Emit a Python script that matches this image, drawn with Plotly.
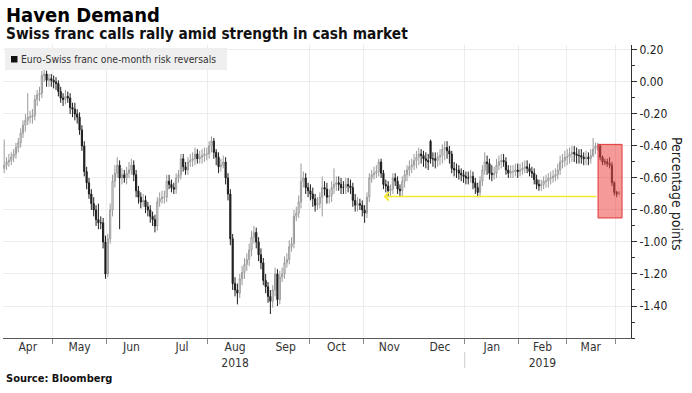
import pandas as pd
import plotly.graph_objects as go

# ---------------- data ----------------
start_day = "2018-04-02"

open_ = [
-0.54, -0.52, -0.50, -0.49, -0.47, -0.45, -0.41, -0.38, -0.32, -0.27,
-0.24, -0.22, -0.22, -0.21, -0.11, -0.08, -0.07, 0.04, 0.05, 0.01,
0.02, 0.01, 0.00, -0.01, -0.06, -0.10, -0.11, -0.09, -0.10, -0.16,
-0.17, -0.20, -0.22, -0.30, -0.40, -0.56, -0.63, -0.70, -0.76, -0.80,
-0.86, -0.88, -0.88, -1.00, -1.20, -0.98, -0.80, -0.62, -0.57, -0.52,
-0.60, -0.58, -0.60, -0.57, -0.55, -0.52, -0.58, -0.68, -0.72, -0.75,
-0.74, -0.78, -0.80, -0.84, -0.86, -0.90, -0.75, -0.73, -0.72, -0.72,
-0.62, -0.64, -0.66, -0.67, -0.60, -0.58, -0.48, -0.53, -0.55, -0.50,
-0.49, -0.48, -0.45, -0.48, -0.47, -0.46, -0.45, -0.45, -0.40, -0.37,
-0.44, -0.47, -0.53, -0.52, -0.50, -0.60, -0.70, -0.98, -1.26, -1.30,
-1.32, -1.23, -1.19, -1.14, -1.11, -1.05, -0.97, -0.94, -1.00, -1.08,
-1.13, -1.24, -1.28, -1.34, -1.37, -1.30, -1.20, -1.36, -1.22, -1.20,
-1.13, -1.11, -1.03, -1.01, -0.84, -0.82, -0.75, -0.62, -0.60, -0.66,
-0.68, -0.70, -0.73, -0.77, -0.76, -0.72, -0.66, -0.67, -0.72, -0.71,
-0.66, -0.64, -0.63, -0.64, -0.66, -0.66, -0.64, -0.65, -0.66, -0.74,
-0.77, -0.76, -0.77, -0.80, -0.82, -0.72, -0.60, -0.58, -0.57, -0.56,
-0.50, -0.57, -0.64, -0.65, -0.68, -0.67, -0.60, -0.62, -0.67, -0.68,
-0.62, -0.58, -0.55, -0.53, -0.52, -0.49, -0.47, -0.45, -0.46, -0.48,
-0.49, -0.37, -0.48, -0.48, -0.49, -0.47, -0.46, -0.42, -0.41, -0.43,
-0.45, -0.54, -0.55, -0.55, -0.57, -0.58, -0.59, -0.60, -0.60, -0.59,
-0.63, -0.66, -0.69, -0.62, -0.55, -0.50, -0.51, -0.57, -0.58, -0.57,
-0.52, -0.50, -0.49, -0.50, -0.55, -0.57, -0.56, -0.56, -0.55, -0.56,
-0.55, -0.54, -0.53, -0.54, -0.56, -0.57, -0.61, -0.64, -0.65, -0.64,
-0.62, -0.62, -0.60, -0.60, -0.59, -0.58, -0.55, -0.50, -0.49, -0.47,
-0.47, -0.45, -0.44, -0.45, -0.46, -0.46, -0.47, -0.48, -0.47, -0.48,
-0.46, -0.42, -0.40, -0.40, -0.47, -0.50, -0.50, -0.51, -0.52, -0.63,
-0.69, -0.70]

high = [
-0.36, -0.47, -0.45, -0.44, -0.42, -0.38, -0.35, -0.29, -0.24, -0.20,
-0.07, -0.18, -0.17, -0.08, -0.05, -0.03, 0.07, 0.08, 0.07, 0.05,
0.05, 0.04, 0.03, 0.01, -0.03, -0.07, -0.05, -0.06, -0.07, -0.13,
-0.13, -0.17, -0.19, -0.27, -0.37, -0.53, -0.60, -0.67, -0.72, -0.77,
-0.76, -0.84, -0.85, -0.96, -0.95, -0.76, -0.58, -0.52, -0.47, -0.49,
-0.54, -0.55, -0.53, -0.50, -0.48, -0.49, -0.55, -0.65, -0.69, -0.70,
-0.71, -0.75, -0.77, -0.81, -0.83, -0.72, -0.69, -0.68, -0.68, -0.58,
-0.58, -0.61, -0.63, -0.57, -0.55, -0.45, -0.45, -0.50, -0.47, -0.45,
-0.44, -0.41, -0.42, -0.43, -0.42, -0.41, -0.41, -0.37, -0.34, -0.35,
-0.42, -0.44, -0.48, -0.46, -0.47, -0.57, -0.67, -0.95, -1.22, -1.26,
-1.20, -1.15, -1.10, -1.07, -1.01, -0.93, -0.90, -0.91, -0.97, -1.04,
-1.10, -1.20, -1.25, -1.30, -1.27, -1.16, -1.17, -1.18, -1.16, -1.09,
-1.07, -0.99, -0.97, -0.80, -0.78, -0.71, -0.51, -0.56, -0.57, -0.63,
-0.64, -0.66, -0.70, -0.72, -0.69, -0.59, -0.62, -0.63, -0.67, -0.62,
-0.54, -0.59, -0.59, -0.60, -0.62, -0.60, -0.60, -0.61, -0.63, -0.70,
-0.72, -0.73, -0.74, -0.77, -0.69, -0.57, -0.55, -0.53, -0.52, -0.48,
-0.48, -0.55, -0.61, -0.62, -0.64, -0.57, -0.57, -0.59, -0.64, -0.59,
-0.55, -0.52, -0.49, -0.48, -0.45, -0.43, -0.41, -0.42, -0.43, -0.44,
-0.45, -0.36, -0.44, -0.44, -0.44, -0.42, -0.39, -0.37, -0.37, -0.40,
-0.43, -0.50, -0.51, -0.52, -0.54, -0.55, -0.56, -0.56, -0.55, -0.56,
-0.60, -0.63, -0.59, -0.52, -0.44, -0.46, -0.48, -0.52, -0.53, -0.48,
-0.46, -0.45, -0.45, -0.47, -0.52, -0.52, -0.52, -0.51, -0.51, -0.51,
-0.50, -0.49, -0.49, -0.51, -0.53, -0.54, -0.58, -0.61, -0.61, -0.59,
-0.58, -0.57, -0.56, -0.55, -0.54, -0.51, -0.46, -0.45, -0.43, -0.42,
-0.41, -0.40, -0.40, -0.41, -0.42, -0.42, -0.44, -0.43, -0.44, -0.42,
-0.35, -0.38, -0.38, -0.39, -0.46, -0.48, -0.48, -0.47, -0.50, -0.62,
-0.68, -0.68]

low = [
-0.57, -0.55, -0.53, -0.52, -0.50, -0.48, -0.44, -0.41, -0.35, -0.31,
-0.27, -0.26, -0.26, -0.24, -0.15, -0.12, -0.10, 0.00, -0.03, -0.03,
-0.03, -0.04, -0.05, -0.09, -0.13, -0.15, -0.14, -0.13, -0.20, -0.22,
-0.24, -0.26, -0.33, -0.43, -0.59, -0.67, -0.73, -0.80, -0.84, -0.90,
-0.92, -0.92, -1.04, -1.23, -1.22, -1.01, -0.84, -0.66, -0.60, -0.92,
-0.64, -0.63, -0.64, -0.60, -0.58, -0.62, -0.72, -0.76, -0.79, -0.78,
-0.82, -0.84, -0.88, -0.90, -0.94, -0.93, -0.78, -0.76, -0.76, -0.75,
-0.67, -0.69, -0.70, -0.70, -0.63, -0.61, -0.56, -0.58, -0.58, -0.53,
-0.53, -0.52, -0.51, -0.51, -0.51, -0.50, -0.49, -0.48, -0.44, -0.48,
-0.52, -0.57, -0.56, -0.54, -0.64, -0.74, -1.02, -1.30, -1.34, -1.39,
-1.35, -1.27, -1.23, -1.18, -1.15, -1.09, -1.01, -1.04, -1.12, -1.17,
-1.27, -1.32, -1.38, -1.45, -1.41, -1.34, -1.40, -1.39, -1.25, -1.23,
-1.16, -1.14, -1.06, -1.04, -0.87, -0.85, -0.79, -0.66, -0.70, -0.72,
-0.74, -0.78, -0.81, -0.80, -0.79, -0.84, -0.71, -0.76, -0.76, -0.75,
-0.70, -0.68, -0.68, -0.70, -0.70, -0.70, -0.69, -0.70, -0.78, -0.81,
-0.81, -0.80, -0.84, -0.88, -0.85, -0.75, -0.63, -0.61, -0.60, -0.59,
-0.60, -0.67, -0.69, -0.72, -0.72, -0.70, -0.65, -0.70, -0.72, -0.72,
-0.66, -0.62, -0.59, -0.57, -0.55, -0.54, -0.52, -0.51, -0.53, -0.54,
-0.55, -0.51, -0.53, -0.54, -0.53, -0.52, -0.51, -0.49, -0.48, -0.51,
-0.57, -0.59, -0.60, -0.61, -0.62, -0.63, -0.64, -0.64, -0.63, -0.67,
-0.70, -0.72, -0.72, -0.65, -0.58, -0.58, -0.61, -0.62, -0.61, -0.60,
-0.55, -0.54, -0.53, -0.58, -0.60, -0.60, -0.60, -0.59, -0.60, -0.59,
-0.58, -0.57, -0.57, -0.59, -0.60, -0.64, -0.67, -0.68, -0.68, -0.67,
-0.66, -0.66, -0.64, -0.63, -0.62, -0.61, -0.58, -0.54, -0.53, -0.52,
-0.51, -0.50, -0.50, -0.51, -0.51, -0.51, -0.52, -0.52, -0.52, -0.51,
-0.47, -0.45, -0.43, -0.49, -0.52, -0.52, -0.53, -0.54, -0.65, -0.71,
-0.72, -0.71]

close = [
-0.52, -0.50, -0.49, -0.47, -0.45, -0.41, -0.38, -0.32, -0.27, -0.24,
-0.22, -0.22, -0.21, -0.11, -0.08, -0.07, 0.04, 0.05, 0.01, 0.02,
0.01, 0.00, -0.01, -0.06, -0.10, -0.11, -0.09, -0.10, -0.16, -0.17,
-0.20, -0.22, -0.30, -0.40, -0.56, -0.63, -0.70, -0.76, -0.80, -0.86,
-0.88, -0.88, -1.00, -1.20, -0.98, -0.80, -0.62, -0.57, -0.52, -0.60,
-0.58, -0.60, -0.57, -0.55, -0.52, -0.58, -0.68, -0.72, -0.75, -0.74,
-0.78, -0.80, -0.84, -0.86, -0.90, -0.75, -0.73, -0.72, -0.72, -0.62,
-0.64, -0.66, -0.67, -0.60, -0.58, -0.48, -0.53, -0.55, -0.50, -0.49,
-0.48, -0.45, -0.48, -0.47, -0.46, -0.45, -0.45, -0.40, -0.37, -0.44,
-0.47, -0.53, -0.52, -0.50, -0.60, -0.70, -0.98, -1.26, -1.30, -1.32,
-1.23, -1.19, -1.14, -1.11, -1.05, -0.97, -0.94, -1.00, -1.08, -1.13,
-1.24, -1.28, -1.34, -1.37, -1.30, -1.20, -1.36, -1.22, -1.20, -1.13,
-1.11, -1.03, -1.01, -0.84, -0.82, -0.75, -0.62, -0.60, -0.66, -0.68,
-0.70, -0.73, -0.77, -0.76, -0.72, -0.66, -0.67, -0.72, -0.71, -0.66,
-0.64, -0.63, -0.64, -0.66, -0.66, -0.64, -0.65, -0.66, -0.74, -0.77,
-0.76, -0.77, -0.80, -0.82, -0.72, -0.60, -0.58, -0.57, -0.56, -0.50,
-0.57, -0.64, -0.65, -0.68, -0.67, -0.60, -0.62, -0.67, -0.68, -0.62,
-0.58, -0.55, -0.53, -0.52, -0.49, -0.47, -0.45, -0.46, -0.48, -0.49,
-0.50, -0.48, -0.48, -0.49, -0.47, -0.46, -0.42, -0.41, -0.43, -0.45,
-0.54, -0.55, -0.55, -0.57, -0.58, -0.59, -0.60, -0.60, -0.59, -0.63,
-0.66, -0.69, -0.62, -0.55, -0.50, -0.51, -0.57, -0.58, -0.57, -0.52,
-0.50, -0.49, -0.50, -0.55, -0.57, -0.56, -0.56, -0.55, -0.56, -0.55,
-0.54, -0.53, -0.54, -0.56, -0.57, -0.61, -0.64, -0.65, -0.64, -0.62,
-0.62, -0.60, -0.60, -0.59, -0.58, -0.55, -0.50, -0.49, -0.47, -0.47,
-0.45, -0.44, -0.45, -0.46, -0.46, -0.47, -0.48, -0.47, -0.48, -0.46,
-0.42, -0.40, -0.40, -0.47, -0.50, -0.50, -0.51, -0.52, -0.63, -0.69,
-0.70, -0.69]

y_tick_values = [0.2, 0.0, -0.2, -0.4, -0.6, -0.8, -1.0, -1.2, -1.4]
y_tick_labels = ["0.20", "0.00", "-0.20", "-0.40", "-0.60", "-0.80", "-1.00", "-1.20", "-1.40"]

# month tick labels (year printed under Aug 2018 and Feb 2019)
month_starts = ["2018-04", "2018-05", "2018-06", "2018-07", "2018-08", "2018-09", "2018-10",
                "2018-11", "2018-12", "2019-01", "2019-02", "2019-03"]
month_labels = ["Apr", "May", "Jun", "Jul", "Aug<br>2018", "Sep", "Oct",
                "Nov", "Dec", "Jan", "Feb<br>2019", "Mar"]
boundary_months = ["2018-05-01", "2018-06-01", "2018-07-01", "2018-08-01", "2018-09-01",
                   "2018-10-01", "2018-11-01", "2018-12-01", "2019-01-01", "2019-02-01",
                   "2019-03-01", "2019-04-01"]
year_break = "2019-01-01"

title_text = "Haven Demand"
subtitle_text = "Swiss franc calls rally amid strength in cash market"
legend_text = "Euro-Swiss franc one-month risk reversals"
y_title = "Percentage points"
source_text = "Source: Bloomberg"

# highlighted window and reference level (arrow)
box_x = ["2019-03-20 14:00", "2019-04-03 19:00"]
box_y = [-0.85, -0.39]
arrow_level = -0.715
arrow_head_date = "2018-11-13 12:00"
arrow_tail_date = "2019-03-20 14:00"

# ---------------- figure ----------------
dates = pd.bdate_range(start=start_day, periods=len(close)) + pd.Timedelta(hours=12)


def month_middle(ym):
    p = pd.Period(ym, freq="M")
    days = pd.bdate_range(p.start_time, p.end_time.normalize())
    n = len(days)
    if n % 2 == 0:
        return days[n // 2]
    return days[n // 2] + pd.Timedelta(hours=12)


label_pos = [month_middle(m) for m in month_starts]

FONT = "DejaVu Sans Condensed, DejaVu Sans, sans-serif"
W, H = 692, 393
L, R, T, B = 3, 61, 45, 55
PW, PH = W - L - R, H - T - B


def px(x):
    return (x - L) / PW


def py(y):
    return (H - B - y) / PH


fig = go.Figure(go.Candlestick(
    x=dates, open=open_, high=high, low=low, close=close,
    increasing=dict(line=dict(color="#9a9a9a", width=1), fillcolor="#ffffff"),
    decreasing=dict(line=dict(color="#1e1e1e", width=1), fillcolor="#1e1e1e"),
    whiskerwidth=0, showlegend=False, hoverinfo="skip",
))

shapes = [
    # legend box
    dict(type="rect", xref="paper", yref="paper", x0=px(5), x1=px(227), y0=py(70), y1=py(48),
         fillcolor="#efefef", line=dict(width=0), layer="above"),
    dict(type="rect", xref="paper", yref="paper", x0=px(11), x1=px(17.5), y0=py(62.5), y1=py(56),
         fillcolor="#111111", line=dict(width=0), layer="above"),
    # highlighted box
    dict(type="rect", xref="x", yref="y", x0=box_x[0], x1=box_x[1], y0=box_y[0], y1=box_y[1],
         fillcolor="rgba(238,70,70,0.55)", line=dict(color="rgba(225,40,40,0.9)", width=1), layer="above"),
    # year separator
    dict(type="line", xref="x", yref="paper", x0=year_break, x1=year_break, y0=py(352), y1=py(368),
         line=dict(color="#cccccc", width=1)),
]

annotations = [
    dict(text="<b>" + title_text + "</b>", xref="paper", yref="paper", x=px(4), y=py(15),
         xanchor="left", yanchor="middle", showarrow=False,
         font=dict(family=FONT, size=20, color="#000000")),
    dict(text="<b>" + subtitle_text + "</b>", xref="paper", yref="paper", x=px(4), y=py(34),
         xanchor="left", yanchor="middle", showarrow=False,
         font=dict(family=FONT, size=15.3, color="#111111")),
    dict(text=legend_text, xref="paper", yref="paper", x=px(19), y=py(59),
         xanchor="left", yanchor="middle", showarrow=False,
         font=dict(family=FONT, size=10.3, color="#333333")),
    dict(text=y_title, xref="paper", yref="paper", x=px(677), y=py(193), textangle=90,
         xanchor="center", yanchor="middle", showarrow=False,
         font=dict(family=FONT, size=14, color="#222222")),
    dict(text="<b>" + source_text + "</b>", xref="paper", yref="paper", x=px(4), y=py(378),
         xanchor="left", yanchor="middle", showarrow=False,
         font=dict(family=FONT, size=11, color="#111111")),
    dict(x=arrow_head_date, y=arrow_level, ax=arrow_tail_date, ay=arrow_level,
         xref="x", yref="y", axref="x", ayref="y", text="", showarrow=True,
         arrowhead=4, arrowsize=1.1, arrowwidth=1.5, arrowcolor="#f5e930"),
]

fig.update_layout(
    width=W, height=H, autosize=False,
    margin=dict(l=L, r=R, t=T, b=B),
    paper_bgcolor="#ffffff", plot_bgcolor="#ffffff",
    font=dict(family=FONT, size=12, color="#333333"),
    shapes=shapes, annotations=annotations, showlegend=False,
    xaxis=dict(
        type="date", range=["2018-04-02 00:00", "2019-04-09 14:00"],
        rangebreaks=[dict(bounds=["sat", "mon"])],
        rangeslider=dict(visible=False), automargin=False,
        tickmode="array", tickvals=label_pos, ticktext=month_labels,
        ticks="", showgrid=False, ticklabelstandoff=-2,
        minor=dict(tickmode="array", tickvals=boundary_months, ticks="outside", ticklen=5,
                   tickcolor="#8a8a8a", showgrid=True, gridcolor="#ececec", gridwidth=1),
        showline=True, linecolor="#5a5a5a", linewidth=1,
        tickfont=dict(family=FONT, size=12, color="#333333"),
        zeroline=False, fixedrange=True,
    ),
    yaxis=dict(
        side="right", range=[-1.6, 0.231], automargin=False,
        tickmode="array", tickvals=y_tick_values, ticktext=y_tick_labels,
        ticks="outside", ticklen=5, tickcolor="#333333",
        showline=True, linecolor="#333333", linewidth=1,
        showgrid=True, gridcolor="#ececec", gridwidth=1, zeroline=False,
        minor=dict(tickmode="linear", tick0=0, dtick=0.1, ticks="outside", ticklen=3,
                   tickcolor="#333333", showgrid=False),
        tickfont=dict(family=FONT, size=12, color="#222222"),
        fixedrange=True,
    ),
)

# the page body has a default 8px margin; remove it so the figure sits at the window's corner
fig.write_html("out.html", config={"displayModeBar": False},
               post_script="document.body.style.margin='0px';document.body.style.overflow='hidden';")
